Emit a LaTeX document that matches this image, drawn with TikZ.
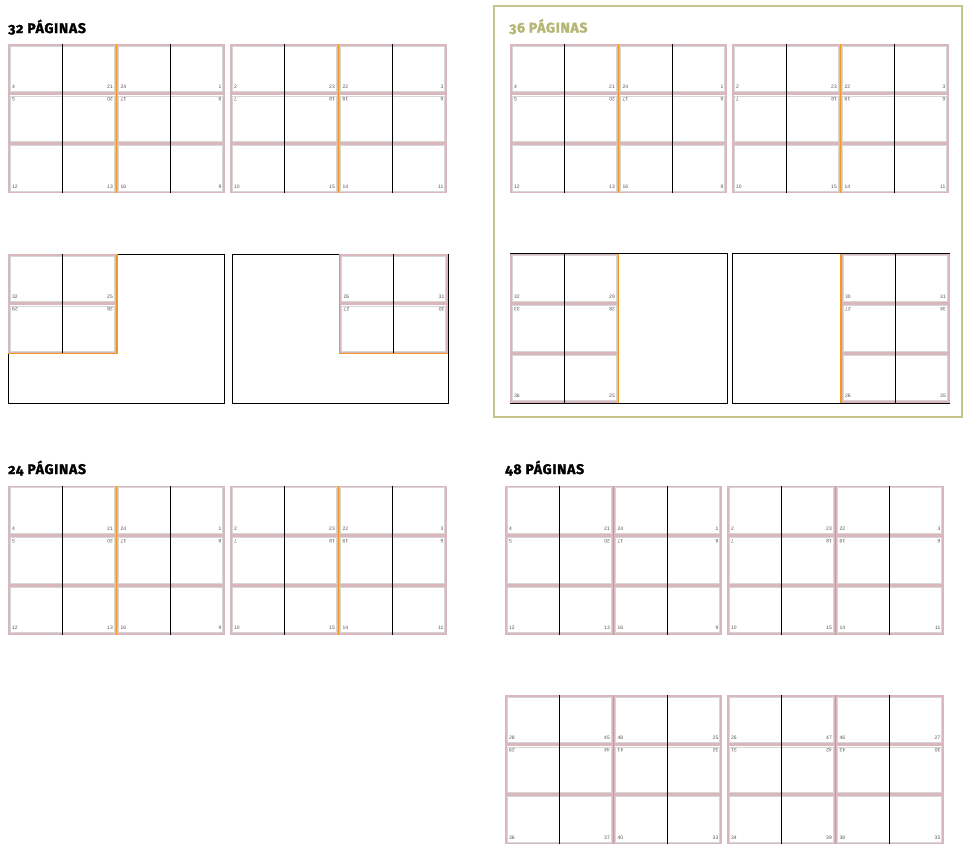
\documentclass[tikz,border=0pt]{standalone}
\usepackage{fontspec}
\setmainfont{Liberation Sans}
\newfontfamily\ttlfont[Numbers=OldStyle,LetterSpace=5,BoldFeatures={FakeBold=1.6}]{Fira Sans}
\definecolor{cpink}{HTML}{D9B7BC}
\definecolor{cgrey}{HTML}{D6D6D6}
\definecolor{corange}{HTML}{F29A1F}
\definecolor{colive}{HTML}{C4C48C}
\definecolor{coltxt}{HTML}{B5B574}
\definecolor{clbl}{HTML}{555555}
\tikzset{
 pinkln/.style={draw=cpink,line width=1.6pt},
 greyln/.style={draw=cgrey,line width=0.7pt},
 foldln/.style={draw=black,line width=1.1pt},
 orangeln/.style={draw=corange,line width=1.5pt},
 sheetln/.style={draw=black,line width=1pt},
 lbl/.style={font=\fontsize{5}{5}\selectfont,text=clbl,inner sep=0pt},
 ttl/.style={font=\ttlfont\bfseries\fontsize{14}{14}\selectfont,inner sep=0pt,anchor=base west}
}
\newcommand\pgcell[2]{%
 \draw[pinkln] (#1+0.8,#2+0.8) rectangle (#1+107.7,#2+49);
 \draw[greyln] (#1+2.2,#2+2.2) rectangle (#1+106.3,#2+47.6);}
\newcommand\pgrowB[6]{%
 \node[lbl,anchor=base west] at (#1+4,#2+44.5) {#3};
 \node[lbl,anchor=base east] at (#1+105,#2+44.5) {#4};
 \node[lbl,anchor=base west] at (#1+112.5,#2+44.5) {#5};
 \node[lbl,anchor=base east] at (#1+213.5,#2+44.5) {#6};}
\newcommand\pgrowT[6]{%
 \node[lbl,rotate=180,anchor=base east] at (#1+4,#2+3.8) {#3};
 \node[lbl,rotate=180,anchor=base west] at (#1+105,#2+3.8) {#4};
 \node[lbl,rotate=180,anchor=base east] at (#1+112.5,#2+3.8) {#5};
 \node[lbl,rotate=180,anchor=base west] at (#1+213.5,#2+3.8) {#6};}
\newcommand\pgsheet[2]{%
 \pgcell{#1}{#2}\pgcell{#1+108.5}{#2}
 \pgcell{#1}{#2+49.8}\pgcell{#1+108.5}{#2+49.8}
 \pgcell{#1}{#2+99.6}\pgcell{#1+108.5}{#2+99.6}
 \draw[foldln] (#1+54.25,#2) -- (#1+54.25,#2+149.4);
 \draw[foldln] (#1+162.75,#2) -- (#1+162.75,#2+149.4);
 \draw[orangeln] (#1+108.5,#2) -- (#1+108.5,#2+149.4);}
\newcommand\pgstdA[2]{% left sheet labels
 \pgrowB{#1}{#2}{4}{21}{24}{1}
 \pgrowT{#1}{#2+49.8}{5}{20}{17}{8}
 \pgrowB{#1}{#2+99.6}{12}{13}{16}{9}}
\newcommand\pgstdB[2]{% right sheet labels
 \pgrowB{#1}{#2}{2}{23}{22}{3}
 \pgrowT{#1}{#2+49.8}{7}{18}{19}{6}
 \pgrowB{#1}{#2+99.6}{10}{15}{14}{11}}
\newcommand\pgcellB[4]{% x y left right (bottom labels)
 \node[lbl,anchor=base west] at (#1+4,#2+44.5) {#3};
 \node[lbl,anchor=base east] at (#1+105,#2+44.5) {#4};}
\newcommand\pgcellT[4]{%
 \node[lbl,rotate=180,anchor=base east] at (#1+4,#2+3.8) {#3};
 \node[lbl,rotate=180,anchor=base west] at (#1+105,#2+3.8) {#4};}
\begin{document}
\begin{tikzpicture}[x=1pt,y=-1pt]
\useasboundingbox[fill=white] (0,0) rectangle (964,849);
% ---------------- 32 paginas
\node[ttl] (t32) at (8,33) {32 PÁGINAS};
\pgsheet{8}{44}\pgsheet{230}{44}
\pgstdA{8}{44}\pgstdB{230}{44}
% bottom sheets
\draw[sheetln] (8,254) rectangle (224,403);
\pgcell{8}{254}\pgcell{8}{303.8}
\draw[foldln] (62.25,254) -- (62.25,353.6);
\draw[orangeln] (8,353.6) -- (116.8,353.6) -- (116.8,254);
\pgcellB{8}{254}{32}{25}
\pgcellT{8}{303.8}{29}{28}
\draw[sheetln] (232,254) rectangle (448,403);
\pgcell{339.5}{254}\pgcell{339.5}{303.8}
\draw[foldln] (393.75,254) -- (393.75,353.6);
\draw[orangeln] (448,353.6) -- (339.5,353.6) -- (339.5,254);
\pgcellB{339.5}{254}{26}{31}
\pgcellT{339.5}{303.8}{27}{30}
% ---------------- 36 paginas
\draw[draw=colive,line width=2.6pt] (494,6) rectangle (962,417);
\node[ttl,text=coltxt] (t36) at (509,32.5) {36 PÁGINAS};
\pgsheet{510}{44}\pgsheet{732}{44}
\pgstdA{510}{44}\pgstdB{732}{44}
\draw[sheetln] (510,253.5) rectangle (727,403);
\pgcell{510}{253.5}\pgcell{510}{303.3}\pgcell{510}{353.1}
\draw[foldln] (564.25,253.5) -- (564.25,403);
\draw[orangeln] (618.5,253.5) -- (618.5,403);
\pgcellB{510}{253.5}{32}{29}
\pgcellT{510}{303.3}{33}{28}
\pgcellB{510}{353.1}{36}{25}
\draw[sheetln] (732,253.5) rectangle (949,403);
\pgcell{841}{253.5}\pgcell{841}{303.3}\pgcell{841}{353.1}
\draw[foldln] (895.25,253.5) -- (895.25,403);
\draw[orangeln] (841,253.5) -- (841,403);
\pgcellB{841}{253.5}{30}{31}
\pgcellT{841}{303.3}{27}{34}
\pgcellB{841}{353.1}{26}{35}
% ---------------- 24 paginas
\node[ttl] (t24) at (8,474) {24 PÁGINAS};
\pgsheet{8}{485.5}\pgsheet{230}{485.5}
\pgstdA{8}{485.5}\pgstdB{230}{485.5}
% ---------------- 48 paginas
\node[ttl] (t48) at (505,474) {48 PÁGINAS};
\pgsheet{505}{485.5}\pgsheet{727}{485.5}
\pgstdA{505}{485.5}\pgstdB{727}{485.5}
\pgsheet{505}{695}\pgsheet{727}{695}
\pgrowB{505}{695}{28}{45}{48}{25}
\pgrowT{505}{744.8}{29}{44}{41}{32}
\pgrowB{505}{794.6}{36}{37}{40}{33}
\pgrowB{727}{695}{26}{47}{46}{27}
\pgrowT{727}{744.8}{31}{42}{43}{30}
\pgrowB{727}{794.6}{34}{39}{38}{35}
\end{tikzpicture}
\end{document}
